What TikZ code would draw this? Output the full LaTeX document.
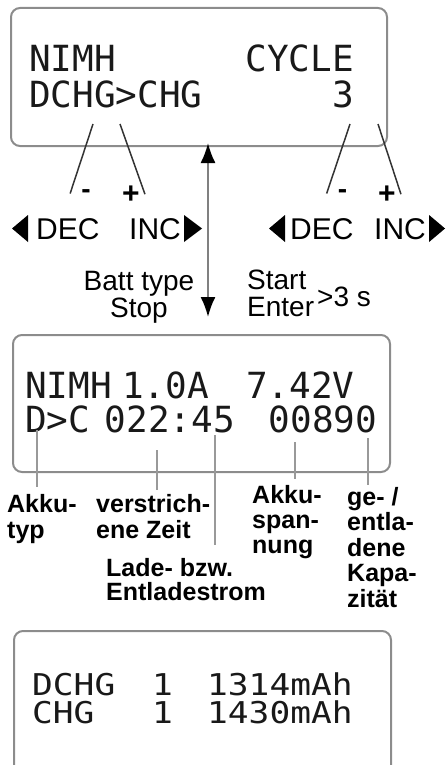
\documentclass[tikz,border=0pt]{standalone}
\usepackage{fontspec}
\setmainfont{Liberation Sans}
\newfontfamily\lcdfont{DejaVu Sans Mono}
\newfontfamily\lcdwide{DejaVu Sans Mono}[FakeStretch=1.15]
\usetikzlibrary{positioning,calc,arrows.meta}

\begin{document}
\begin{tikzpicture}[x=1pt,y=-1pt,
    lcd/.style={draw=black!45, line width=2pt, rounded corners=9pt, inner sep=0pt},
    lcdtxt/.style={font=\lcdfont\fontsize{36}{40}\selectfont, text=black!90, inner sep=0pt, anchor=base west},
    lcdlow/.style={lcdtxt, font=\lcdwide\fontsize{30}{34}\selectfont},
    keyline/.style={draw=black!80, line width=1.5pt},
    leader/.style={draw=black!40, line width=2pt},
    btn/.style={font=\fontsize{30}{32}\selectfont, inner sep=0pt, anchor=base west},
    minustxt/.style={font=\bfseries\fontsize{28}{30}\selectfont, inner sep=2pt, anchor=base},
    plustxt/.style={font=\bfseries\fontsize{30}{32}\selectfont, inner sep=2pt, anchor=base},
    notetxt/.style={font=\fontsize{28}{27}\selectfont, inner sep=0pt},
    lbl/.style={font=\bfseries\fontsize{25}{26}\selectfont, inner sep=0pt, anchor=north west, align=left},
    updown/.style={draw=black!50, line width=2pt,
        {Latex[length=20pt,width=15pt,color=black]}-{Latex[length=20pt,width=15pt,color=black]}}]
    \useasboundingbox (0,0) rectangle (446,765);
    \clip (0,0) rectangle (446,765);

    % Displays
    \node[lcd, minimum width=376pt, minimum height=138pt] (lcdA) at (199,77) {};
    \node[lcd, minimum width=377pt, minimum height=137pt] (lcdB) at (201.5,403.5) {};
    \node[lcd, minimum width=377pt, minimum height=170pt] (lcdC) at (202.5,716) {};

    % Cycle menu
    \node[lcdtxt] (typA) at (29,72) {NIMH};
    \node[lcdtxt, anchor=base east] (cyc) at (354,72) {CYCLE};
    \node[lcdtxt] (modeA) at (29,107) {DCHG>CHG};
    \node[lcdtxt, anchor=base east] (cnt) at (354,107) {3};

    % Keys
    \node[minustxt] (decmA) at (86,198) {-};
    \node[plustxt] (incpA) at (131,203) {+};
    \node[minustxt] (decmB) at (342.5,198) {-};
    \node[plustxt] (incpB) at (387,203) {+};
    \coordinate (kA1) at (93,124);
    \coordinate (kA2) at (120,124);
    \coordinate (kB1) at (350,124);
    \coordinate (kB2) at (378,124);
    \draw[keyline] (kA1) -- ([xshift=-9pt]decmA.west);
    \draw[keyline] (kA2) -- ([xshift=3pt]incpA.east);
    \draw[keyline] (kB1) -- ([xshift=-9pt]decmB.west);
    \draw[keyline] (kB2) -- ([xshift=3pt]incpB.east);

    \node[btn] (decA) at (36,239) {DEC};
    \node[btn] (incA) at (129,239) {INC};
    \node[btn] (decB) at (290,239) {DEC};
    \node[btn] (incB) at (374,239) {INC};
    \fill ([xshift=-8pt]decA.base west) ++(0,-24) -- ++(0,27) -- ++(-16,-13.5) -- cycle;
    \fill ([xshift=3pt]incA.base east) ++(0,-24) -- ++(0,27) -- ++(18,-13.5) -- cycle;
    \fill ([xshift=-5pt]decB.base west) ++(0,-24) -- ++(0,27) -- ++(-16,-13.5) -- cycle;
    \fill ([xshift=3pt]incB.base east) ++(0,-24) -- ++(0,27) -- ++(16,-13.5) -- cycle;

    % Batt type / Start
    \coordinate (upT) at (208,143);
    \coordinate (dnT) at (208,317);
    \draw[updown] (upT) -- (dnT);
    \node[notetxt, anchor=north, align=center] (batt) at (139,271) {Batt type\\Stop};
    \node[notetxt, anchor=north west, align=left] (start) at (247,270) {Start\\Enter};
    \node[notetxt, anchor=base west] (hold) at (317,306) {>3 s};

    % Charge display
    \node[lcdtxt] (typB) at (25,398) {NIMH};
    \node[lcdtxt] (curr) at (122,398) {1.0A};
    \node[lcdtxt] (volt) at (246,398) {7.42V};
    \node[lcdtxt] (modeB) at (25,432) {D>C};
    \node[lcdtxt] (time) at (104.5,432) {022:45};
    \node[lcdtxt] (cap) at (268.5,432) {00890};

    \node[lbl] (akku) at (7,494) {Akku-\\typ};
    \node[lbl] (zeit) at (96,494) {verstrich-\\ene Zeit};
    \node[lbl, font=\bfseries\fontsize{25}{24}\selectfont] (strom) at (106,558) {Lade- bzw.\\Entladestrom};
    \node[lbl, font=\bfseries\fontsize{25}{25}\selectfont] (spann) at (252,485) {Akku-\\span-\\nung};
    \node[lbl, font=\bfseries\fontsize{25}{25.5}\selectfont] (kapaz) at (347,487) {ge- /\\entla-\\dene\\Kapa-\\zität};
    \coordinate (pA) at (37,430);
    \coordinate (pB) at (157,450);
    \coordinate (pC) at (215,435);
    \coordinate (pD) at (295,442);
    \coordinate (pE) at (368,438);
    \draw[leader, shorten >=7pt] (pA) -- (pA |- akku.north);
    \draw[leader, shorten >=4pt] (pB) -- (pB |- zeit.north);
    \draw[leader, shorten >=13pt] (pC) -- (pC |- strom.north);
    \draw[leader, shorten >=6pt] (pD) -- (pD |- spann.north);
    \draw[leader, shorten >=2pt] (pE) -- (pE |- kapaz.north);

    % Result display
    \node[lcdlow] (dchg) at (32,695) {DCHG};
    \node[lcdlow] (nD) at (152,695) {1};
    \node[lcdlow] (mahD) at (207,695) {1314mAh};
    \node[lcdlow] (chg) at (32,723) {CHG};
    \node[lcdlow] (nC) at (152,723) {1};
    \node[lcdlow] (mahC) at (207,723) {1430mAh};
\end{tikzpicture}
\end{document}
